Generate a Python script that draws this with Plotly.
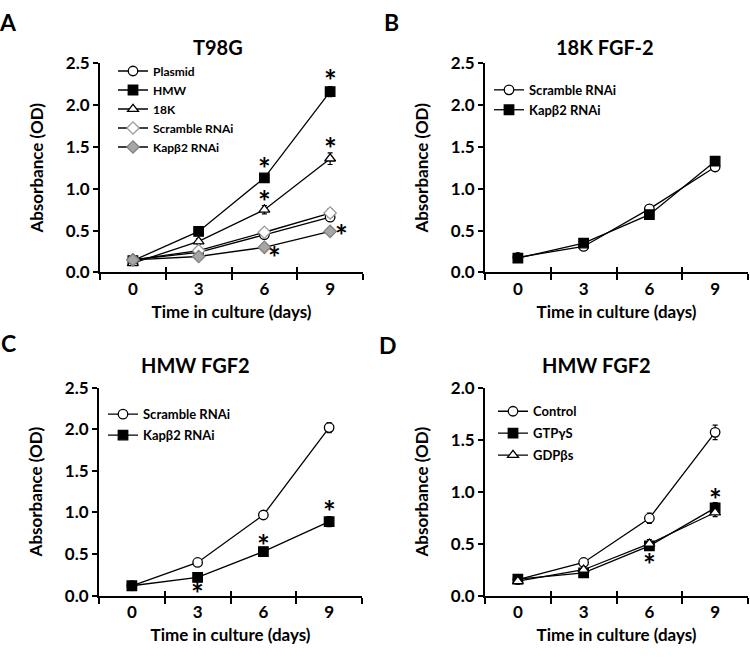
import plotly.graph_objects as go

# ---------------- data ----------------
days = ["0", "3", "6", "9"]

# Panel A: T98G
a_plasmid = [0.15, 0.24, 0.45, 0.66]
a_plasmid_err = [0.01, 0.02, 0.03, 0.04]
a_hmw = [0.14, 0.49, 1.13, 2.16]
a_hmw_err = [0.01, 0.03, 0.03, 0.06]
a_18k = [0.11, 0.37, 0.75, 1.36]
a_18k_err = [0.01, 0.03, 0.05, 0.07]
a_scr = [0.15, 0.26, 0.48, 0.71]
a_scr_err = [0.01, 0.02, 0.03, 0.05]
a_kap = [0.15, 0.19, 0.30, 0.49]
a_kap_err = [0.01, 0.02, 0.03, 0.04]

# Panel B: 18K FGF-2
b_scr = [0.18, 0.31, 0.76, 1.26]
b_scr_err = [0.02, 0.02, 0.03, 0.04]
b_kap = [0.17, 0.35, 0.69, 1.33]
b_kap_err = [0.02, 0.02, 0.03, 0.04]

# Panel C: HMW FGF2
c_scr = [0.12, 0.40, 0.97, 2.02]
c_scr_err = [0.01, 0.02, 0.03, 0.06]
c_kap = [0.12, 0.22, 0.53, 0.89]
c_kap_err = [0.01, 0.02, 0.03, 0.06]

# Panel D: HMW FGF2
d_ctrl = [0.155, 0.32, 0.745, 1.57]
d_ctrl_err = [0.02, 0.04, 0.05, 0.07]
d_gtp = [0.16, 0.22, 0.48, 0.845]
d_gtp_err = [0.02, 0.03, 0.04, 0.05]
d_gdp = [0.14, 0.25, 0.50, 0.80]
d_gdp_err = [0.02, 0.03, 0.04, 0.04]

# significance asterisks (category index position, y value)
a_sig_x = [2.0, 3.0, 2.0, 3.0, 3.18, 2.15]
a_sig_y = [1.30, 2.35, 0.90, 1.53, 0.49, 0.23]
c_sig_x = [1.0, 2.0, 3.0]
c_sig_y = [0.08, 0.66, 1.06]
d_sig_x = [2.0, 3.0]
d_sig_y = [0.345, 0.97]

FONT = "Lato"
BLACK = "#000000"
GRAY = "#a6a6a6"
LGRAY = "#9a9a9a"

fig = go.Figure()


def add_series(name, y, err, xa, ya, leg, symbol, fill, edge, group):
    fig.add_trace(go.Scatter(
        x=days, y=y, name=name, mode="lines+markers",
        xaxis=xa, yaxis=ya, legend=leg, legendgroup=group,
        line=dict(color=BLACK, width=1.3),
        marker=dict(symbol=symbol, size=9.5, color=fill,
                    line=dict(color=edge, width=1.3)),
        error_y=dict(type="data", array=err, visible=True,
                     color=BLACK, thickness=1.2, width=2.5),
    ))


add_series("Plasmid", a_plasmid, a_plasmid_err, "x", "y", "legend", "circle", "white", BLACK, "a1")
add_series("HMW", a_hmw, a_hmw_err, "x", "y", "legend", "square", BLACK, BLACK, "a2")
add_series("18K", a_18k, a_18k_err, "x", "y", "legend", "triangle-up", "white", BLACK, "a3")
add_series("Scramble RNAi", a_scr, a_scr_err, "x", "y", "legend", "diamond", "white", LGRAY, "a4")
add_series("Kapβ2 RNAi", a_kap, a_kap_err, "x", "y", "legend", "diamond", GRAY, "#808080", "a5")

add_series("Scramble RNAi", b_scr, b_scr_err, "x2", "y2", "legend2", "circle", "white", BLACK, "b1")
add_series("Kapβ2 RNAi", b_kap, b_kap_err, "x2", "y2", "legend2", "square", BLACK, BLACK, "b2")

add_series("Scramble RNAi", c_scr, c_scr_err, "x3", "y3", "legend3", "circle", "white", BLACK, "c1")
add_series("Kapβ2 RNAi", c_kap, c_kap_err, "x3", "y3", "legend3", "square", BLACK, BLACK, "c2")

add_series("Control", d_ctrl, d_ctrl_err, "x4", "y4", "legend4", "circle", "white", BLACK, "d1")
add_series("GTPγS", d_gtp, d_gtp_err, "x4", "y4", "legend4", "square", BLACK, BLACK, "d2")
add_series("GDPβs", d_gdp, d_gdp_err, "x4", "y4", "legend4", "triangle-up", "white", BLACK, "d3")

# keep overlay axes alive
for ov, ya in [("x5", "y"), ("x6", "y2"), ("x7", "y3"), ("x8", "y4")]:
    fig.add_trace(go.Scatter(x=[None], y=[None], xaxis=ov, yaxis=ya,
                             showlegend=False, hoverinfo="skip"))

W, H = 750, 659


def px_x(p):
    return p / W


def px_y(p):
    return 1 - p / H


panels = {
    "1": (100, 363, 54, 270, 2.5),
    "2": (485, 748, 54, 270, 2.5),
    "3": (99, 362, 389, 604, 2.5),
    "4": (485, 748, 389, 604, 2.0),
}

layout = dict(
    width=W, height=H, margin=dict(l=0, r=0, t=0, b=0),
    paper_bgcolor="white", plot_bgcolor="white",
    font=dict(family=FONT, color=BLACK, weight="bold"),
    showlegend=True,
)

for k, (x0, x1, yt, yb, ymax) in panels.items():
    sfx = "" if k == "1" else k
    layout["xaxis" + sfx] = dict(
        domain=[px_x(x0), px_x(x1)], anchor="y" + sfx,
        type="category", categoryarray=days, range=[-0.5, 3.5],
        tickson="boundaries", ticks="outside", ticklen=6, tickwidth=2,
        tickcolor=BLACK, showline=True, linecolor=BLACK, linewidth=2,
        showgrid=False, zeroline=False,
        tickfont=dict(family=FONT, size=17, weight="bold"),
        title=dict(text="Time in culture (days)", standoff=8,
                   font=dict(family=FONT, size=17, weight="bold")),
    )
    layout["yaxis" + sfx] = dict(
        domain=[px_y(yb), px_y(yt)], anchor="x" + sfx,
        range=[0, ymax], dtick=0.5, tickformat=".1f",
        ticks="outside", ticklen=5, tickwidth=2, tickcolor=BLACK,
        showline=True, linecolor=BLACK, linewidth=2,
        showgrid=False, zeroline=False,
        tickfont=dict(family=FONT, size=17, weight="bold"),
        title=dict(text="Absorbance (OD)", standoff=18,
                   font=dict(family=FONT, size=17, weight="bold")),
    )
    ov = str(int(k) + 4)
    layout["xaxis" + ov] = dict(
        overlaying="x" + sfx, anchor="y" + sfx, domain=[px_x(x0), px_x(x1)],
        range=[-0.5, 3.5], tickvals=[-0.5, 0.5, 1.5, 2.5, 3.5],
        ticks="inside", ticklen=5, tickwidth=2, tickcolor=BLACK,
        showticklabels=False, showline=False, showgrid=False, zeroline=False,
    )

common_leg = dict(bgcolor="rgba(0,0,0,0)", xanchor="left", yanchor="top", itemwidth=30)
layout["legend"] = dict(x=px_x(113), y=px_y(47), tracegroupgap=0,
                        font=dict(family=FONT, size=12, color=BLACK, weight="bold"), **common_leg)
layout["legend2"] = dict(x=px_x(489), y=px_y(66), tracegroupgap=0,
                         font=dict(family=FONT, size=13, color=BLACK, weight="bold"), **common_leg)
layout["legend3"] = dict(x=px_x(103), y=px_y(401), tracegroupgap=1,
                         font=dict(family=FONT, size=13, color=BLACK, weight="bold"), **common_leg)
layout["legend4"] = dict(x=px_x(493), y=px_y(398), tracegroupgap=2,
                         font=dict(family=FONT, size=13, color=BLACK, weight="bold"), **common_leg)

fig.update_layout(**layout)

ann = []
letters = [("A", 8, 11), ("B", 391, 11), ("C", 8, 343), ("D", 388, 345)]
for t, x, y in letters:
    ann.append(dict(text=t, x=px_x(x), y=px_y(y), xref="paper", yref="paper",
                    xanchor="center", yanchor="middle", showarrow=False,
                    font=dict(family=FONT, size=23, weight="bold")))
titles = [("T98G", 218, 37), ("18K FGF-2", 605, 37), ("HMW FGF2", 195, 366), ("HMW FGF2", 596, 366)]
for t, x, y in titles:
    ann.append(dict(text=t, x=px_x(x), y=px_y(y), xref="paper", yref="paper",
                    xanchor="center", yanchor="middle", showarrow=False,
                    font=dict(family=FONT, size=20, weight="bold")))

# significance asterisks as text (glyph sits high in its box -> shift down a bit)
for xs, ys, xr, yr in [(a_sig_x, a_sig_y, "x5", "y"),
                       (c_sig_x, c_sig_y, "x7", "y3"),
                       (d_sig_x, d_sig_y, "x8", "y4")]:
    for xv, yv in zip(xs, ys):
        ann.append(dict(text="*", x=xv, y=yv, xref=xr, yref=yr,
                        xanchor="center", yanchor="middle", yshift=-4,
                        showarrow=False,
                        font=dict(family=FONT, size=30, color=BLACK)))
fig.update_layout(annotations=ann)

fig.write_html("out.html", config={"displayModeBar": False},
               post_script="document.body.style.margin='0';")
